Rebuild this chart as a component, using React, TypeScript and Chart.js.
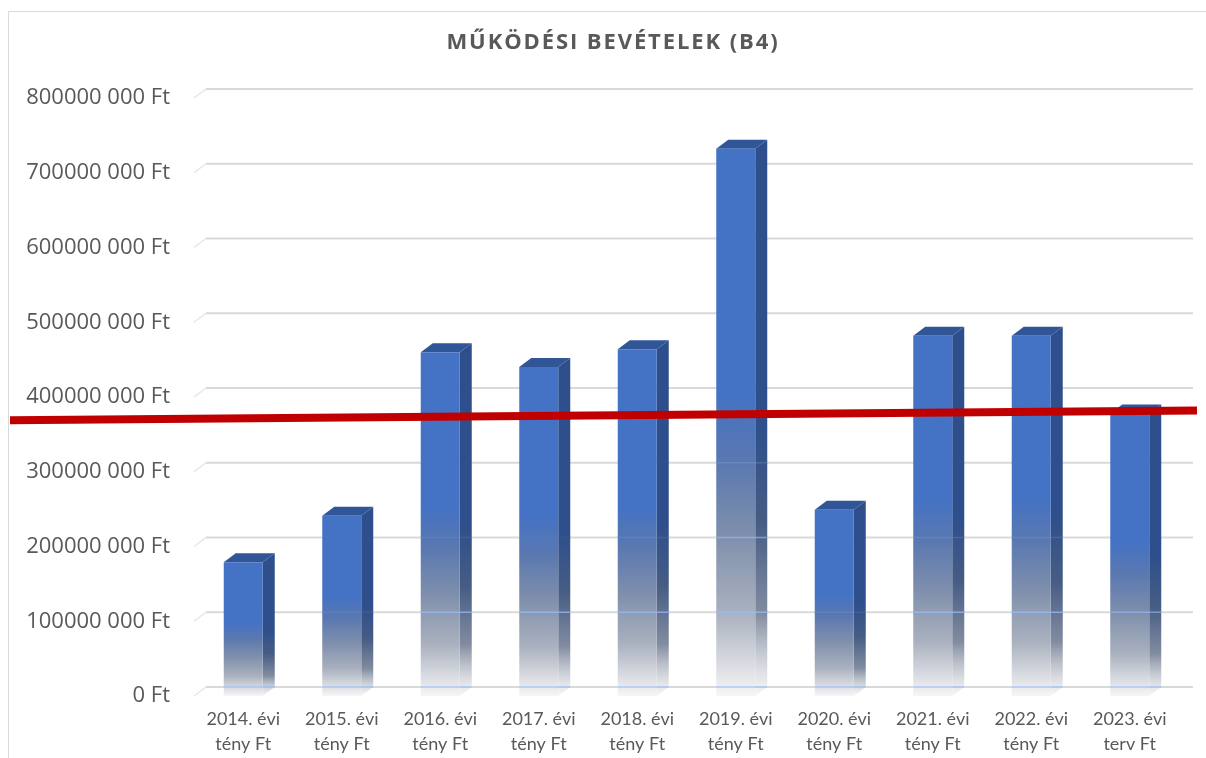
import React, { useEffect, useRef } from 'react';
import { Chart, registerables } from 'chart.js';

Chart.register(...registerables);

const titleText = 'MŰKÖDÉSI BEVÉTELEK (B4)';
const categories: string[][] = [
  ['2014. évi', 'tény Ft'],
  ['2015. évi', 'tény Ft'],
  ['2016. évi', 'tény Ft'],
  ['2017. évi', 'tény Ft'],
  ['2018. évi', 'tény Ft'],
  ['2019. évi', 'tény Ft'],
  ['2020. évi', 'tény Ft'],
  ['2021. évi', 'tény Ft'],
  ['2022. évi', 'tény Ft'],
  ['2023. évi', 'terv Ft'],
];
const revenues = [179000000, 241000000, 460000000, 440000000, 464000000, 732000000, 249000000, 482000000, 482000000, 378000000];
// red reference line: value at left end and at right end
const redLine = [369000000, 382000000];
const yMin = 0;
const yMax = 800000000;
const yStep = 100000000;

const W = 1206;
const H = 758;
const DEPTH_X = 12;
const DEPTH_Y = 9;

function formatFt(v: number): string {
  if (v === 0) return '0 Ft';
  const s = String(Math.round(v));
  return s.slice(0, -3) + ' ' + s.slice(-3) + ' Ft';
}

const chart3d = {
  id: 'chart3d',
  beforeDraw(chart: any) {
    const ctx = chart.ctx;
    ctx.save();
    ctx.fillStyle = '#ffffff';
    ctx.fillRect(0, 0, chart.width, chart.height);
    ctx.strokeStyle = '#d9d9d9';
    ctx.lineWidth = 1;
    ctx.strokeRect(8.5, 11.5, chart.width + 10, chart.height + 10);
    // title
    ctx.fillStyle = '#595959';
    ctx.font = 'bold 22px "Open Sans"';
    (ctx as any).letterSpacing = '1.9px';
    ctx.textAlign = 'center';
    ctx.textBaseline = 'middle';
    ctx.fillText(titleText, 613, 43);
    ctx.restore();
  },
  beforeDatasetsDraw(chart: any) {
    const ctx = chart.ctx;
    const y = chart.scales.y;
    const area = chart.chartArea;
    ctx.save();
    for (const t of y.ticks) {
      const yf = y.getPixelForValue(t.value);
      const yb = yf - DEPTH_Y;
      ctx.strokeStyle = '#d9d9d9';
      ctx.lineWidth = 2;
      ctx.beginPath();
      ctx.moveTo(area.left + DEPTH_X, yb);
      ctx.lineTo(area.right + DEPTH_X + 2, yb);
      ctx.stroke();
      ctx.strokeStyle = '#e4e4e4';
      ctx.lineWidth = 1.2;
      ctx.beginPath();
      ctx.moveTo(area.left, yf);
      ctx.lineTo(area.left + DEPTH_X, yb);
      ctx.stroke();
    }
    // side and top faces
    const meta = chart.getDatasetMeta(0);
    meta.data.forEach((el: any) => {
      const { x, y: top, base, width } = el.getProps(['x', 'y', 'base', 'width'], true);
      const xl = x - width / 2;
      const xr = x + width / 2;
      // side face
      const g = ctx.createLinearGradient(0, top, 0, base);
      g.addColorStop(0, 'rgb(46,79,139)');
      g.addColorStop(0.5, 'rgb(46,79,139)');
      g.addColorStop(0.68, 'rgb(70,92,132)');
      g.addColorStop(0.85, 'rgb(130,140,160)');
      g.addColorStop(1, 'rgba(240,240,240,0.6)');
      ctx.fillStyle = g;
      ctx.beginPath();
      ctx.moveTo(xr, top);
      ctx.lineTo(xr + DEPTH_X, top - DEPTH_Y);
      ctx.lineTo(xr + DEPTH_X, base - DEPTH_Y);
      ctx.lineTo(xr, base);
      ctx.closePath();
      ctx.fill();
      // top face
      ctx.fillStyle = 'rgb(49,86,152)';
      ctx.beginPath();
      ctx.moveTo(xl, top);
      ctx.lineTo(xl + DEPTH_X, top - DEPTH_Y);
      ctx.lineTo(xr + DEPTH_X, top - DEPTH_Y);
      ctx.lineTo(xr, top);
      ctx.closePath();
      ctx.fill();
    });
    ctx.restore();
  },
  afterDatasetsDraw(chart: any) {
    const ctx = chart.ctx;
    const y = chart.scales.y;
    const meta = chart.getDatasetMeta(0);
    ctx.save();
    // gridlines shining through the faded lower part of the bars
    meta.data.forEach((el: any) => {
      const { x, y: top, base, width } = el.getProps(['x', 'y', 'base', 'width'], true);
      const h = base - top;
      for (const t of y.ticks) {
        const yb = y.getPixelForValue(t.value) - DEPTH_Y;
        if (yb <= top || yb >= base) continue;
        const f = (yb - top) / h;
        const a = Math.max(0, Math.min(1, (f - 0.5) / 0.25)) * 0.75;
        if (a <= 0) continue;
        ctx.strokeStyle = `rgba(150,190,250,${a})`;
        ctx.lineWidth = 1.5;
        ctx.beginPath();
        ctx.moveTo(x - width / 2, yb);
        ctx.lineTo(x + width / 2 + DEPTH_X, yb);
        ctx.stroke();
      }
    });
    // red reference line
    const yl = y.getPixelForValue(redLine[0]);
    const yr = y.getPixelForValue(redLine[1]);
    ctx.strokeStyle = '#C00000';
    ctx.lineWidth = 8;
    ctx.lineCap = 'butt';
    ctx.beginPath();
    ctx.moveTo(10, yl);
    ctx.lineTo(1197, yr);
    ctx.stroke();
    ctx.restore();
  },
};

export default function App() {
  const ref = useRef<HTMLCanvasElement | null>(null);
  useEffect(() => {
    document.body.style.margin = '0';
    if (!ref.current) return;
    const chart = new Chart(ref.current, {
      type: 'bar',
      data: {
        labels: categories,
        datasets: [
          {
            label: 'Működési bevételek',
            data: revenues,
            borderWidth: 0,
            categoryPercentage: 1,
            barPercentage: 0.396,
            backgroundColor: (c: any) => {
              const ch = c.chart;
              if (!ch.chartArea || c.type !== 'data' || !ch.scales || !ch.scales.y) return '#4472C4';
              const ys = ch.scales.y;
              const top = ys.getPixelForValue(c.raw);
              const base = ys.getPixelForValue(0);
              const g = ch.ctx.createLinearGradient(0, top, 0, base);
              g.addColorStop(0, 'rgb(68,114,196)');
              g.addColorStop(0.45, 'rgb(68,114,196)');
              g.addColorStop(0.57, 'rgb(90,120,176)');
              g.addColorStop(0.71, 'rgb(128,144,172)');
              g.addColorStop(0.85, 'rgb(170,177,191)');
              g.addColorStop(1, 'rgb(246,246,246)');
              return g;
            },
          },
        ],
      },
      options: {
        responsive: false,
        animation: false,
        layout: { padding: { left: 0, right: 27, top: 98, bottom: 0 } },
        plugins: {
          legend: { display: false },
          tooltip: { enabled: false },
          title: { display: false },
        },
        scales: {
          x: {
            grid: { display: false, drawTicks: false },
            border: { display: false },
            ticks: {
              color: '#595959',
              font: { family: 'Lato', size: 18, lineHeight: 1.39 },
              padding: 11,
              maxRotation: 0,
              autoSkip: false,
            },
            afterFit: (s: any) => {
              s.height = 62;
            },
          },
          y: {
            min: yMin,
            max: yMax,
            grid: { display: false, drawTicks: false },
            border: { display: false },
            ticks: {
              stepSize: yStep,
              color: '#595959',
              font: { family: 'Open Sans', size: 22 },
              padding: 24,
              callback: (v: any) => formatFt(Number(v)),
            },
            afterFit: (s: any) => {
              s.width = 194;
            },
          },
        },
      },
      plugins: [chart3d],
    } as any);
    return () => chart.destroy();
  }, []);
  return <canvas ref={ref} width={W} height={H} style={{ display: 'block', width: W, height: H }} />;
}
